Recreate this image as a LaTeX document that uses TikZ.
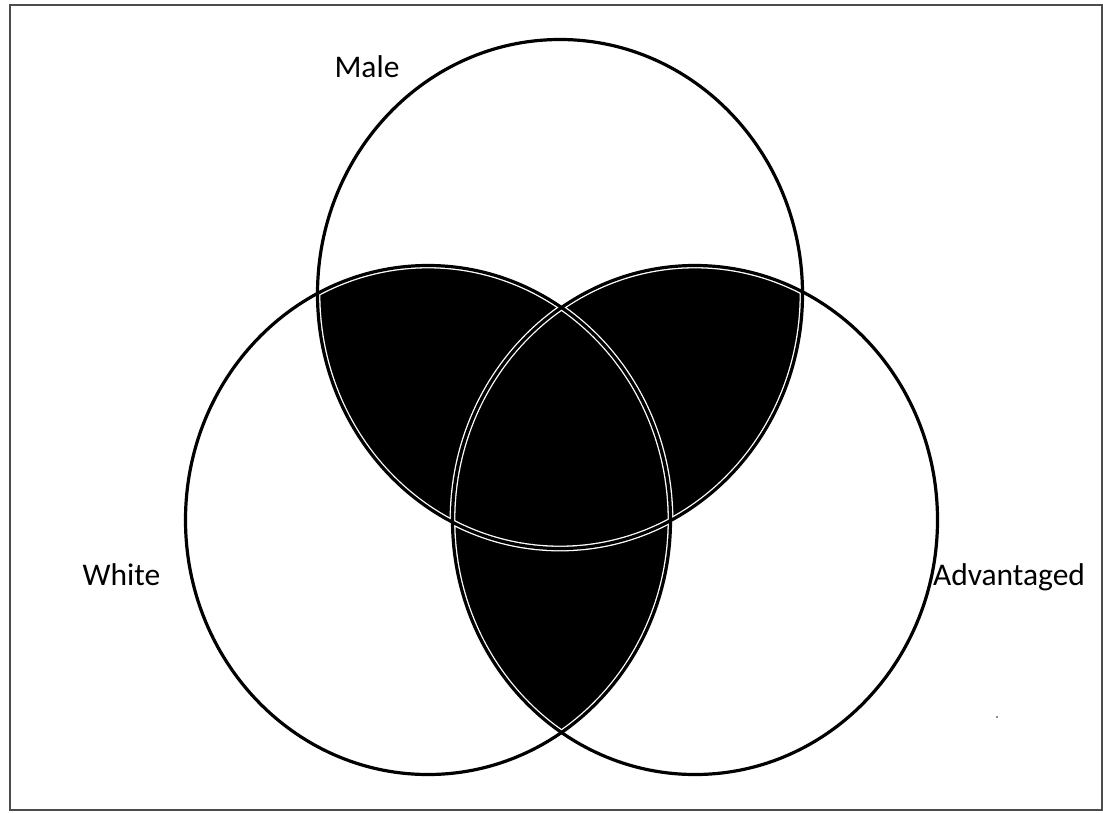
\documentclass[tikz,border=0pt]{standalone}
\usepackage{fontspec}
\setmainfont{Carlito}

\begin{document}
\begin{tikzpicture}[x=1pt,y=-1pt,
  ring/.style={draw=black,line width=3.2pt},
  halo/.style={draw=white,line width=5.8pt},
  lbl/.style={anchor=base,inner sep=0pt,font=\fontsize{31.5}{36}\selectfont}]
  \useasboundingbox (0,0) rectangle (1103,812);
  \draw[black!70,line width=2pt] (10,5) rectangle (1102,810);
  \def\rw{242.5} \def\rh{254.5}
  \coordinate (male) at (560,294);
  \coordinate (white) at (428,520);
  \coordinate (adv) at (695,520);
  % shaded overlaps
  \begin{scope}
    \clip (male) ellipse [x radius=\rw,y radius=\rh];
    \fill (white) ellipse [x radius=\rw,y radius=\rh];
    \fill (adv) ellipse [x radius=\rw,y radius=\rh];
  \end{scope}
  \begin{scope}
    \clip (white) ellipse [x radius=\rw,y radius=\rh];
    \fill (adv) ellipse [x radius=\rw,y radius=\rh];
  \end{scope}
  % outlines
  \foreach \c in {male,white,adv}
    \draw[halo] (\c) ellipse [x radius=\rw,y radius=\rh];
  \foreach \c in {male,white,adv}
    \draw[ring] (\c) ellipse [x radius=\rw,y radius=\rh];
  \node[lbl] (lmale) at (367,77) {Male};
  \node[lbl] (lwhite) at (121.5,585) {White};
  \node[lbl] (ladv) at (1009,585) {Advantaged};
  \fill[black!60] (997,717) circle (1.2);
\end{tikzpicture}
\end{document}
